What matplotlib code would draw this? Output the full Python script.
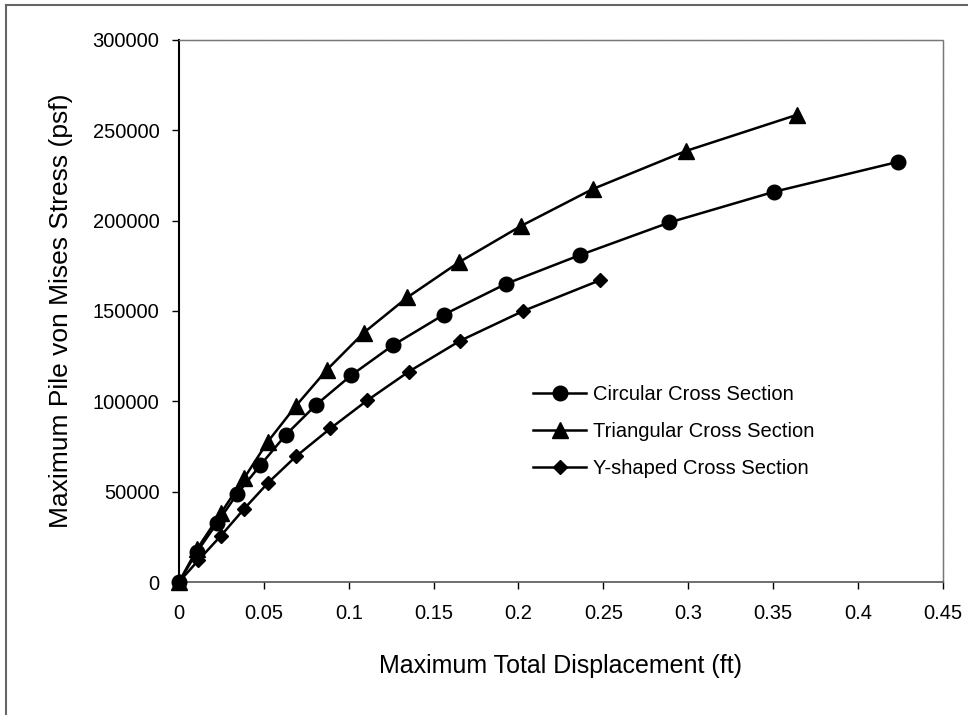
import matplotlib.pyplot as plt
from matplotlib.lines import Line2D

plt.rcParams['font.family'] = ['Liberation Sans', 'DejaVu Sans']

# circular section
circ_x = [0, 0.0105, 0.0223, 0.0341, 0.0478, 0.063, 0.0807, 0.1016, 0.126, 0.1561,
          0.1926, 0.2364, 0.289, 0.3507, 0.4235]
circ_y = [0, 16500, 32500, 48500, 64500, 81500, 98000, 114500, 131000, 148000,
          165000, 181000, 199000, 216000, 232500]

# triangular section
tri_x = [0, 0.0108, 0.0246, 0.0384, 0.0522, 0.0689, 0.0872, 0.1089, 0.1345, 0.165,
         0.2014, 0.2438, 0.2985, 0.3639]
tri_y = [0, 18500, 38000, 57500, 77500, 97500, 117500, 138000, 157500, 177000,
         197000, 217500, 238500, 258500]

# Y-shaped section
dia_x = [0, 0.0114, 0.0246, 0.0384, 0.0526, 0.0689, 0.0892, 0.1109, 0.1355, 0.1656,
         0.2028, 0.248]
dia_y = [0, 12000, 25500, 40500, 55000, 69500, 85000, 100500, 116500, 133500,
         150000, 167000]

x_ticks = [0, 0.05, 0.1, 0.15, 0.2, 0.25, 0.3, 0.35, 0.4, 0.45]
x_tick_labels = ['0', '0.05', '0.1', '0.15', '0.2', '0.25', '0.3', '0.35', '0.4', '0.45']
y_ticks = [0, 50000, 100000, 150000, 200000, 250000, 300000]

fig = plt.figure(figsize=(9.68, 7.15), dpi=100)
ax = fig.add_axes([0.1849, 0.186, 0.7890, 0.7581])

ax.plot(circ_x, circ_y, color='black', lw=1.8, marker='o', ms=10.5,
        label='Circular Cross Section', clip_on=False, zorder=3)
ax.plot(tri_x, tri_y, color='black', lw=1.8, marker='^', ms=11,
        label='Triangular Cross Section', clip_on=False, zorder=3)
ax.plot(dia_x, dia_y, color='black', lw=1.8, marker='D', ms=7.5,
        label='Y-shaped Cross Section', clip_on=False, zorder=3)

ax.set_xlim(0, 0.45)
ax.set_ylim(0, 300000)
ax.set_xticks(x_ticks)
ax.set_xticklabels(x_tick_labels)
ax.set_yticks(y_ticks)
ax.set_yticklabels([str(v) for v in y_ticks])
ax.tick_params(axis='both', direction='out', length=5, width=1, labelsize=14.5,
               color='black')
ax.tick_params(axis='x', pad=11)
ax.tick_params(axis='y', pad=9)

ax.spines['left'].set_color('black')
ax.spines['left'].set_linewidth(1.5)
ax.spines['bottom'].set_color('#555555')
ax.spines['bottom'].set_linewidth(1.2)
for side in ['top', 'right']:
    ax.spines[side].set_color('#777777')
    ax.spines[side].set_linewidth(1.0)
    ax.spines[side].set_linestyle((0, (1, 0.6)))

ax.set_xlabel('Maximum Total Displacement (ft)', fontsize=18, labelpad=22)
ax.set_ylabel('Maximum Pile von Mises Stress (psf)', fontsize=19, labelpad=14)

leg = ax.legend(loc='center left', bbox_to_anchor=(0.464, 0.277), frameon=False,
                fontsize=14.5, handlelength=2.6, handletextpad=0.35, labelspacing=0.9,
                borderpad=0, borderaxespad=0)

# outer border (top and left edges visible)
fig.add_artist(Line2D([6 / 968, 6 / 968], [0, 1 - 5 / 715], transform=fig.transFigure,
                      color='#666666', lw=1.5))
fig.add_artist(Line2D([6 / 968, 1], [1 - 5 / 715, 1 - 5 / 715], transform=fig.transFigure,
                      color='#666666', lw=1.5))

fig.savefig('out.png', dpi=100)
